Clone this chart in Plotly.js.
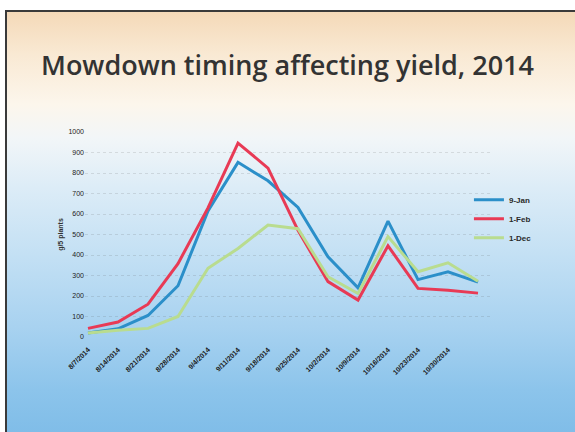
<!DOCTYPE html>
<html>
<head>
<meta charset="utf-8">
<script src="https://cdn.plot.ly/plotly-3.0.1.min.js"></script>
<style>
  html, body { margin: 0; padding: 0; background: #ffffff; }
  #wrap { position: relative; width: 575px; height: 432px; overflow: hidden; background: #ffffff; }
  #bg { position: absolute; left: 5px; top: 10px; width: 570px; height: 422px;
        border-left: 2px solid #3a3a3a; border-top: 2px solid #3a3a3a; box-sizing: border-box;
        background: linear-gradient(to bottom, #f4d9b8 0%, #f9e9d3 10%, #fcf6ec 22%, #f2f6f8 30%, #dcecf7 42%, #c3e0f4 58%, #a8d2f0 75%, #8cc4eb 90%, #80bde8 100%); }
  #chart { position: absolute; left: 0; top: 0; width: 575px; height: 432px; }
</style>
</head>
<body>
<div id="wrap"><div id="bg"></div><div id="chart"></div></div>
<script>
const dates = ['8/7/2014','8/14/2014','8/21/2014','8/28/2014','9/4/2014','9/11/2014','9/18/2014',
               '9/25/2014','10/2/2014','10/9/2014','10/16/2014','10/23/2014','10/30/2014','11/6/2014'];
const labeledDates = dates.slice(0, 13);
const seriesNames = ['9-Jan', '1-Feb', '1-Dec'];
const jan9 = [20, 40, 105, 250, 615, 852, 762, 632, 391, 240, 565, 280, 318, 268];
const feb1 = [42, 73, 160, 358, 630, 946, 824, 520, 270, 180, 445, 237, 228, 214];
const dec1 = [20, 33, 42, 100, 335, 432, 546, 528, 294, 212, 490, 318, 362, 272];
const yTicks = [0, 100, 200, 300, 400, 500, 600, 700, 800, 900, 1000];

const colors = ['#2b8fc9', '#e83a55', '#b9dc8f'];
const values = [jan9, feb1, dec1];
const traces = values.map((v, k) => ({
  type: 'scatter', mode: 'lines', x: dates, y: v, name: seriesNames[k],
  line: { color: colors[k], width: 3 }
}));

const layout = {
  width: 575, height: 432,
  margin: { l: 85, r: 85, t: 132, b: 95 },
  paper_bgcolor: 'rgba(0,0,0,0)', plot_bgcolor: 'rgba(0,0,0,0)',
  showlegend: true,
  title: { text: 'Mowdown timing affecting yield, 2014', x: 0.5, xanchor: 'center',
           y: 1 - 66/432, yref: 'container', yanchor: 'middle',
           font: { family: 'Open Sans, sans-serif', size: 27, color: '#333333', weight: 600 } },
  xaxis: {
    type: 'category', categoryorder: 'array', categoryarray: dates,
    range: [-0.1, 13.4], tickvals: labeledDates, ticktext: labeledDates,
    tickangle: -45, ticks: 'outside', ticklen: 5, tickcolor: 'rgba(0,0,0,0)',
    tickfont: { family: 'Liberation Sans, Arial, sans-serif', size: 7, color: '#1a1a1a', weight: 'bold' },
    showgrid: false, showline: false, zeroline: false
  },
  yaxis: {
    range: [0, 1000], tickvals: yTicks, ticks: '',
    tickfont: { family: 'Liberation Sans, Arial, sans-serif', size: 7, color: '#222' },
    showgrid: true, gridcolor: 'rgba(90,90,90,0.16)', griddash: 'dot', gridwidth: 1,
    zeroline: false, showline: false,
    title: { text: 'g/5 plants', standoff: 3,
             font: { family: 'Liberation Sans, Arial, sans-serif', size: 7, color: '#333', weight: 'bold' } }
  },
  legend: {
    x: 0.948, xanchor: 'left', y: 0.74, yanchor: 'top',
    bgcolor: 'rgba(0,0,0,0)', itemwidth: 30, tracegroupgap: 0,
    font: { family: 'Liberation Sans, Arial, sans-serif', size: 8, color: '#2a2a2a', weight: 'bold' }
  }
};

Plotly.newPlot('chart', traces, layout, { displayModeBar: false, staticPlot: true });
</script>
</body>
</html>
